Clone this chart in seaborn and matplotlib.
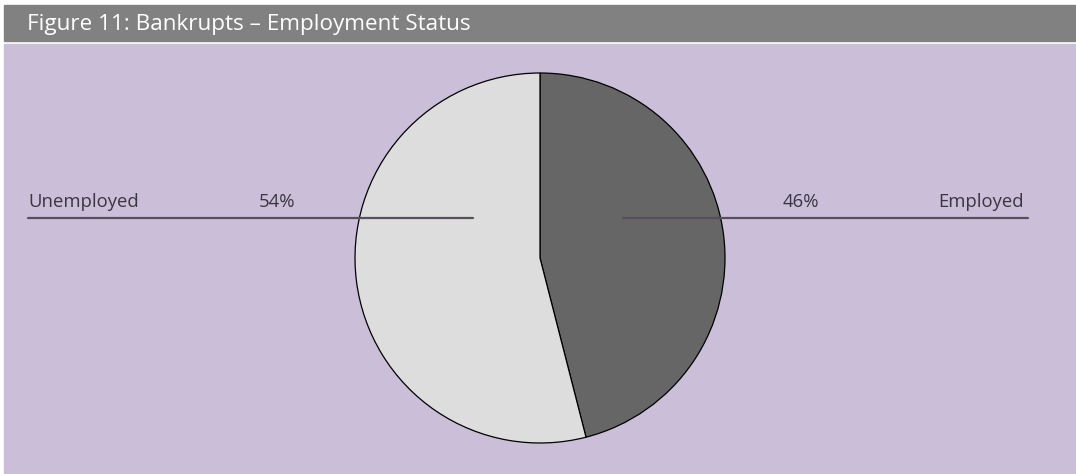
import matplotlib
matplotlib.use("Agg")
import matplotlib.pyplot as plt
from matplotlib.patches import Rectangle
import seaborn as sns

# data
categories = ["Employed", "Unemployed"]
shares = [46, 54]
slice_colors = ["#666666", "#dddddd"]
title = "Figure 11: Bankrupts – Employment Status"

sns.set_theme(style="white")
plt.rcParams["font.family"] = ["Open Sans", "DejaVu Sans"]

W, H = 1076, 474
fig = plt.figure(figsize=(W / 100, H / 100), dpi=100)
fig.patch.set_facecolor("white")
ax = fig.add_axes([0, 0, 1, 1])

# panel backgrounds (pixel coords, y measured from bottom)
ax.add_patch(Rectangle((4, 0), W - 4, H - 44, color="#cbbed8", zorder=0))
ax.add_patch(Rectangle((4, H - 41), W - 4, 36, color="#818181", zorder=0))
ax.text(27, H - 24, title, color="white", fontsize=16.2, va="center", ha="left")

# pie
cx, cy, r = 540, H - 258, 185
ax.pie(shares, colors=slice_colors, startangle=90, counterclock=False,
       center=(cx, cy), radius=r,
       wedgeprops=dict(edgecolor="black", linewidth=0.9))

# leader lines + labels
line_y = H - 217.5
text_y = H - 207
ax.plot([28, 473], [line_y, line_y], color="#55505a", lw=1.6, zorder=5)
ax.plot([623, 1028], [line_y, line_y], color="#55505a", lw=1.6, zorder=5)
txt = dict(color="#3a3540", fontsize=13.3, va="baseline")
ax.text(28, text_y, categories[1], ha="left", **txt)
ax.text(259, text_y, f"{shares[1]}%", ha="left", **txt)
ax.text(783, text_y, f"{shares[0]}%", ha="left", **txt)
ax.text(1024, text_y, categories[0], ha="right", **txt)

ax.set_xlim(0, W)
ax.set_ylim(0, H)
ax.set_aspect("auto")
ax.axis("off")

fig.savefig("out.png", dpi=100, facecolor=fig.get_facecolor())
